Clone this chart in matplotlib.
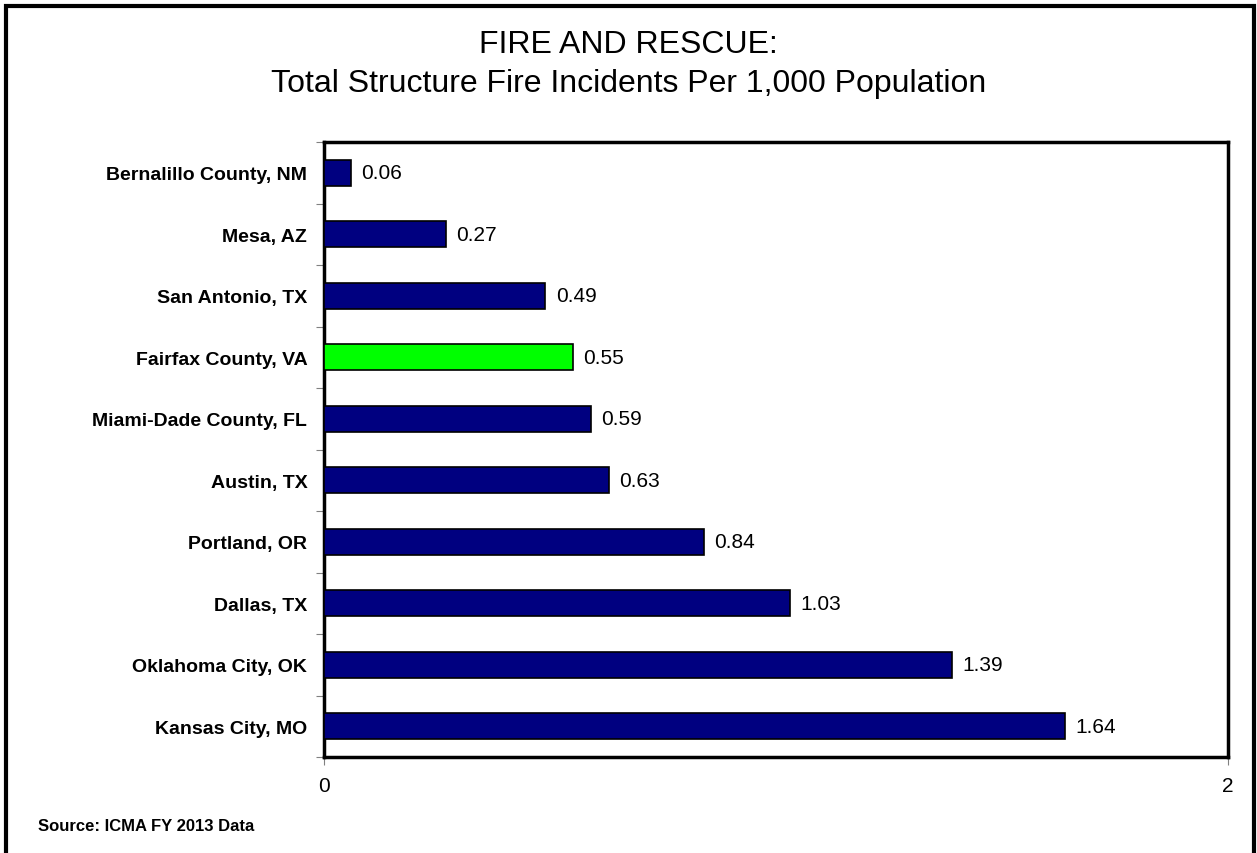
import numpy as np
import matplotlib
matplotlib.use('Agg')
import matplotlib.pyplot as plt
from matplotlib.patches import Rectangle

plt.rcParams['font.family'] = ['Liberation Sans', 'DejaVu Sans']

cities = ['Bernalillo County, NM', 'Mesa, AZ', 'San Antonio, TX', 'Fairfax County, VA',
          'Miami-Dade County, FL', 'Austin, TX', 'Portland, OR', 'Dallas, TX',
          'Oklahoma City, OK', 'Kansas City, MO']
values = [0.06, 0.27, 0.49, 0.55, 0.59, 0.63, 0.84, 1.03, 1.39, 1.64]
highlight = 'Fairfax County, VA'

colors = ['#00FF00' if c == highlight else '#000080' for c in cities]

fig = plt.figure(figsize=(12.57, 8.54), dpi=100)
ax = fig.add_axes([324/1257, 1 - 758/854, (1228 - 324)/1257, (758 - 143)/854])

y = np.arange(len(cities))
ax.barh(y, values, height=0.42, color=colors, edgecolor='black', linewidth=1.2, zorder=3)

for yi, v in zip(y, values):
    ax.text(v + 0.023, yi, f'{v:.2f}', va='center', ha='left', fontsize=15)

ax.set_xlim(0, 2)
ax.set_ylim(len(cities) - 0.5, -0.5)
ax.set_xticks([0, 2])
ax.set_xticklabels(['0', '2'], fontsize=15)
ax.set_yticks(y)
ax.set_yticklabels(cities, fontsize=14, fontweight='bold')
ax.tick_params(axis='y', which='major', length=0, pad=12)
ax.set_yticks(np.arange(-0.5, len(cities)), minor=True)
ax.tick_params(axis='y', which='minor', length=6, color='gray', width=0.8)
ax.tick_params(axis='x', length=6, color='gray', width=0.8, pad=8)
for s in ax.spines.values():
    s.set_linewidth(2.5)

fig.text(0.5, 1 - 45/854, 'FIRE AND RESCUE:', ha='center', va='center', fontsize=23)
fig.text(0.5, 1 - 84/854, 'Total Structure Fire Incidents Per 1,000 Population',
         ha='center', va='center', fontsize=23)
fig.text(38/1257, 1 - 827/854, 'Source: ICMA FY 2013 Data', ha='left', va='center',
         fontsize=12, fontweight='bold')

fig.patches.append(Rectangle((6/1257, -0.05), (1254 - 6)/1257, 1.05 - 7/854,
                             transform=fig.transFigure, fill=False,
                             edgecolor='black', linewidth=3))

fig.savefig('out.png', dpi=100)
